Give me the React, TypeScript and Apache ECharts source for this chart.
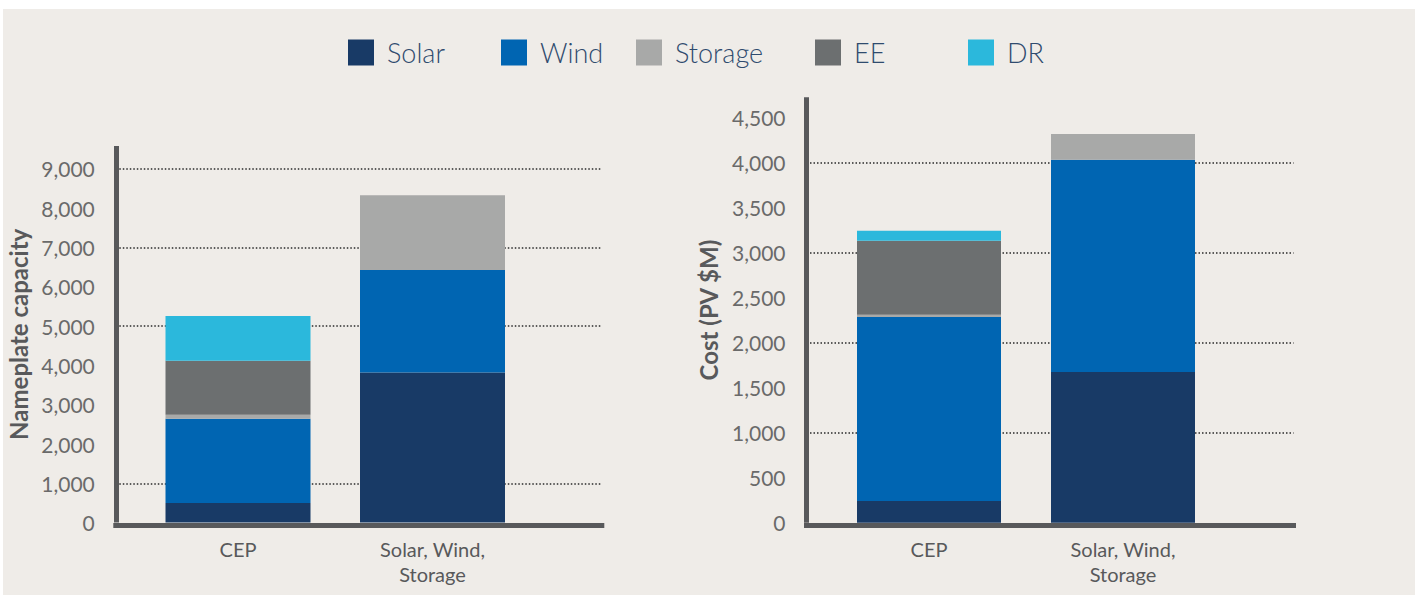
import React, { useEffect, useRef } from "react";
import * as echarts from "echarts";

// Portfolio categories on both panels
const CATEGORIES = ["CEP", "Solar, Wind,\nStorage"];
const SERIES_NAMES = ["Solar", "Wind", "Storage", "EE", "DR"];
const SERIES_COLORS = ["#183a66", "#0065b2", "#a8a9a8", "#6c6f70", "#2bb8dc"];

// Nameplate capacity by resource (CEP, Solar/Wind/Storage)
const CAPACITY_SOLAR = [500, 3820];
const CAPACITY_WIND = [2145, 2610];
const CAPACITY_STORAGE = [100, 1900];
const CAPACITY_EE = [1375, 0];
const CAPACITY_DR = [1140, 0];

// Cost, present value $M, by resource
const COST_SOLAR = [242, 1674];
const COST_WIND = [2042, 2353];
const COST_STORAGE = [25, 288];
const COST_EE = [820, 0];
const COST_DR = [111, 0];

// Axis ticks and dotted reference lines
const CAPACITY_TICK_STEP = 1000;
const COST_TICK_STEP = 500;
const CAPACITY_GRIDLINES = [1000, 5000, 7000, 9000];
const COST_GRIDLINES = [1000, 2000, 3000, 4000];

const CAPACITY_VALUES = [CAPACITY_SOLAR, CAPACITY_WIND, CAPACITY_STORAGE, CAPACITY_EE, CAPACITY_DR];
const COST_VALUES = [COST_SOLAR, COST_WIND, COST_STORAGE, COST_EE, COST_DR];

const AXIS_COLOR = "#58595b";
const FONT = "Lato, 'Open Sans', sans-serif";
const LEGEND_LEFTS = [348, 501, 636, 815, 968];

type Panel = {
  frameLeft: number;
  frameWidth: number;
  barsLeft: number;
  barsWidth: number;
  top: number;
  bottom: number;
  axisTop: number;
  step: number;
  gridlines: number[];
  values: number[][];
  name: string;
  nameGap: number;
  barWidth: number;
  stack: string;
};

const PANELS: Panel[] = [
  {
    frameLeft: 115.8,
    frameWidth: 486,
    barsLeft: 140.75,
    barsWidth: 389,
    top: 146,
    bottom: 72.4,
    axisTop: 9585,
    step: CAPACITY_TICK_STEP,
    gridlines: CAPACITY_GRIDLINES,
    values: CAPACITY_VALUES,
    name: "Nameplate capacity",
    nameGap: 85,
    barWidth: 145,
    stack: "capacity",
  },
  {
    frameLeft: 806.5,
    frameWidth: 487,
    barsLeft: 832,
    barsWidth: 388,
    top: 97.3,
    bottom: 72.2,
    axisTop: 4721,
    step: COST_TICK_STEP,
    gridlines: COST_GRIDLINES,
    values: COST_VALUES,
    name: "Cost (PV $M)",
    nameGap: 86,
    barWidth: 144,
    stack: "cost",
  },
];

function buildOption() {
  const grid: any[] = [];
  const xAxis: any[] = [];
  const yAxis: any[] = [];
  const series: any[] = [];

  PANELS.forEach((p, i) => {
    const frame = i * 2;
    const bars = i * 2 + 1;
    grid.push(
      { left: p.frameLeft, width: p.frameWidth, top: p.top, bottom: p.bottom, containLabel: false },
      { left: p.barsLeft, width: p.barsWidth, top: p.top, bottom: p.bottom, containLabel: false }
    );

    // frame: axis lines, tick labels, dotted reference lines
    xAxis.push({
      gridIndex: frame,
      type: "value",
      min: 0,
      max: 1,
      offset: 2.5,
      axisLine: { show: true, onZero: false, lineStyle: { color: AXIS_COLOR, width: 5, cap: "square" } },
      axisTick: { show: false },
      axisLabel: { show: false },
      splitLine: { show: false },
    });
    yAxis.push({
      gridIndex: frame,
      type: "value",
      min: 0,
      max: p.axisTop,
      interval: p.step,
      z: 5,
      axisLine: { show: true, onZero: false, lineStyle: { color: AXIS_COLOR, width: 5, cap: "butt" } },
      axisTick: { show: false },
      splitLine: { show: false },
      axisLabel: {
        margin: 21,
        fontSize: 21,
        color: "#6a6a6a",
        fontFamily: FONT,
        padding: [0, 0, 4, 0],
        formatter: (v: number) => (v % p.step === 0 ? v.toLocaleString("en-US") : ""),
      },
      name: p.name,
      nameLocation: "middle",
      nameRotate: 90,
      nameGap: p.nameGap,
      nameTextStyle: { fontSize: 24, fontWeight: "bold", color: AXIS_COLOR, fontFamily: FONT },
    });

    // bars: categories and stacked values on the same vertical scale
    xAxis.push({
      gridIndex: bars,
      type: "category",
      data: CATEGORIES,
      axisLine: { show: false },
      axisTick: { show: false },
      axisLabel: { margin: 14, fontSize: 20, lineHeight: 25, color: AXIS_COLOR, fontFamily: FONT },
    });
    yAxis.push({ gridIndex: bars, type: "value", min: 0, max: p.axisTop, show: false });

    series.push({
      type: "line",
      xAxisIndex: frame,
      yAxisIndex: frame,
      data: [],
      silent: true,
      z: 1,
      markLine: {
        silent: true,
        z: 1,
        symbol: ["none", "none"],
        label: { show: false },
        lineStyle: { color: "#2a2a2a", width: 1.5, type: [1.5, 2] },
        data: p.gridlines.map((v) => ({ yAxis: v })),
      },
    });

    SERIES_NAMES.forEach((name, k) => {
      series.push({
        type: "bar",
        name,
        xAxisIndex: bars,
        yAxisIndex: bars,
        stack: p.stack,
        barWidth: p.barWidth,
        itemStyle: { color: SERIES_COLORS[k] },
        data: p.values[k],
        z: 2,
      });
    });
  });

  const legend = SERIES_NAMES.map((name, k) => ({
    data: [name],
    left: LEGEND_LEFTS[k],
    top: 39,
    padding: 0,
    icon: "rect",
    itemWidth: 26,
    itemHeight: 26,
    selectedMode: false,
    textStyle: { fontSize: 27, fontWeight: 300, color: "#2f4b6e", fontFamily: FONT, padding: [3, 0, 0, 8] },
  }));

  return {
    animation: false,
    backgroundColor: "transparent",
    textStyle: { fontFamily: FONT },
    legend,
    grid,
    xAxis,
    yAxis,
    series,
  };
}

export default function App() {
  const ref = useRef<HTMLDivElement>(null);

  useEffect(() => {
    document.body.style.margin = "0";
    if (!ref.current) return;
    const chart = echarts.init(ref.current, undefined, { renderer: "svg" });
    chart.setOption(buildOption() as any);
    return () => chart.dispose();
  }, []);

  return (
    <div style={{ position: "relative", width: 1418, height: 595, background: "#ffffff", overflow: "hidden" }}>
      <div style={{ position: "absolute", left: 3, top: 9, width: 1412, height: 586, background: "#efece8" }} />
      <div ref={ref} style={{ position: "absolute", left: 0, top: 0, width: 1418, height: 595 }} />
    </div>
  );
}
